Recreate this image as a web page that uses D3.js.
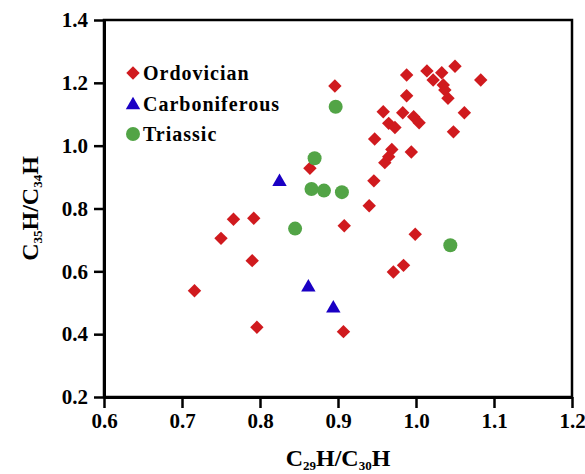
<!DOCTYPE html>
<html>
<head>
<meta charset="utf-8">
<script src="https://cdn.jsdelivr.net/npm/d3@7"></script>
<style>
  body { margin: 0; background: #fff; }
  text { font-family: "Liberation Serif", "Times New Roman", serif; font-weight: bold; }
</style>
</head>
<body>
<div id="myPlot"></div>
<script>
// C29H/C30H vs C35H/C34H values
const ordovicianX = [0.716, 0.750, 0.766, 0.792, 0.790, 0.796, 0.864, 0.896, 0.908, 0.907,
  0.940, 0.946, 0.947, 0.958, 0.960, 0.965, 0.969, 0.965, 0.973, 0.971,
  0.984, 0.983, 0.988, 0.988, 0.994, 0.997, 1.004, 0.999, 1.014, 1.033,
  1.022, 1.035, 1.037, 1.041, 1.050, 1.083, 1.062, 1.048];
const ordovicianY = [0.538, 0.705, 0.766, 0.769, 0.634, 0.422, 0.928, 1.190, 0.745, 0.408,
  0.809, 0.888, 1.021, 1.108, 0.946, 0.965, 0.988, 1.071, 1.058, 0.598,
  0.619, 1.105, 1.225, 1.159, 0.980, 1.092, 1.073, 0.718, 1.238, 1.232,
  1.209, 1.193, 1.177, 1.151, 1.253, 1.209, 1.105, 1.044];
const carboniferousX = [0.825, 0.862, 0.894];
const carboniferousY = [0.885, 0.549, 0.482];
const triassicX = [0.897, 0.870, 0.866, 0.882, 0.905, 0.845, 1.044];
const triassicY = [1.124, 0.960, 0.862, 0.857, 0.852, 0.736, 0.683];

const xTicks = [0.6, 0.7, 0.8, 0.9, 1.0, 1.1, 1.2];
const yTicks = [0.2, 0.4, 0.6, 0.8, 1.0, 1.2, 1.4];
const seriesNames = ["Ordovician", "Carboniferous", "Triassic"];

window.onload = () => {
  const width = 585;
  const height = 474;
  const left = 104, right = 572, top = 20, bottom = 397;

  const svg = d3.select("#myPlot")
    .append("svg")
    .attr("width", width)
    .attr("height", height);

  const x = d3.scaleLinear().domain([0.6, 1.2]).range([left, right]);
  const y = d3.scaleLinear().domain([0.2, 1.4]).range([bottom, top]);

  // frame (top and right)
  svg.append("rect")
    .attr("x", left).attr("y", top)
    .attr("width", right - left).attr("height", bottom - top)
    .attr("fill", "none").attr("stroke", "#000").attr("stroke-width", 2.5);

  // X axis
  const xAxis = svg.append("g")
    .attr("transform", "translate(0," + bottom + ")")
    .call(d3.axisBottom(x).tickValues(xTicks).tickFormat(d3.format(".1f"))
      .tickSize(11).tickPadding(5).tickSizeOuter(0));
  xAxis.select(".domain").attr("stroke-width", 3);
  xAxis.selectAll(".tick line").attr("stroke-width", 2.5);
  xAxis.selectAll("text").attr("font-size", 21).attr("fill", "#000")
    .attr("font-family", "Liberation Serif").attr("font-weight", "bold");

  // Y axis
  const yAxis = svg.append("g")
    .attr("transform", "translate(" + left + ",0)")
    .call(d3.axisLeft(y).tickValues(yTicks).tickFormat(d3.format(".1f"))
      .tickSize(10).tickPadding(6).tickSizeOuter(0));
  yAxis.select(".domain").attr("stroke-width", 3);
  yAxis.selectAll(".tick line").attr("stroke-width", 2.5);
  yAxis.selectAll("text").attr("font-size", 21).attr("fill", "#000")
    .attr("font-family", "Liberation Serif").attr("font-weight", "bold");

  // Axis titles
  const xt = svg.append("text")
    .attr("x", (left + right) / 2).attr("y", 466)
    .attr("text-anchor", "middle").attr("font-size", 24);
  xt.append("tspan").text("C");
  xt.append("tspan").text("29").attr("font-size", 13).attr("dy", 4);
  xt.append("tspan").text("H/C").attr("dy", -4);
  xt.append("tspan").text("30").attr("font-size", 13).attr("dy", 4);
  xt.append("tspan").text("H").attr("dy", -4);

  const yt = svg.append("text")
    .attr("transform", "translate(38," + (top + bottom) / 2 + ") rotate(-90)")
    .attr("text-anchor", "middle").attr("font-size", 24);
  yt.append("tspan").text("C");
  yt.append("tspan").text("35").attr("font-size", 13).attr("dy", 4);
  yt.append("tspan").text("H/C").attr("dy", -4);
  yt.append("tspan").text("34").attr("font-size", 13).attr("dy", 4);
  yt.append("tspan").text("H").attr("dy", -4);

  const red = "#d01a1e", blue = "#1a00c4", green = "#52a446";
  const diamond = d3.symbol().type(d3.symbolSquare).size(90)();
  const triangle = d3.symbol().type(d3.symbolTriangle).size(90)();

  const ordo = ordovicianX.map((v, i) => [v, ordovicianY[i]]);
  const carb = carboniferousX.map((v, i) => [v, carboniferousY[i]]);
  const tria = triassicX.map((v, i) => [v, triassicY[i]]);

  svg.append("g").selectAll("path")
    .data(ordo).enter()
    .append("path")
    .attr("d", diamond)
    .attr("transform", d => "translate(" + x(d[0]) + "," + y(d[1]) + ") rotate(45)")
    .attr("fill", red);

  svg.append("g").selectAll("path")
    .data(carb).enter()
    .append("path")
    .attr("d", triangle)
    .attr("transform", d => "translate(" + x(d[0]) + "," + y(d[1]) + ")")
    .attr("fill", blue);

  svg.append("g").selectAll("circle")
    .data(tria).enter()
    .append("circle")
    .attr("cx", d => x(d[0]))
    .attr("cy", d => y(d[1]))
    .attr("r", 7)
    .attr("fill", green);

  // Legend
  const legend = svg.append("g");
  const ly = [73, 104, 134];
  legend.append("path").attr("d", diamond)
    .attr("transform", "translate(133," + ly[0] + ") rotate(45)").attr("fill", red);
  legend.append("path").attr("d", triangle)
    .attr("transform", "translate(133," + (ly[1] + 1) + ")").attr("fill", blue);
  legend.append("circle").attr("cx", 133).attr("cy", ly[2]).attr("r", 7).attr("fill", green);
  legend.selectAll("text")
    .data(seriesNames).enter()
    .append("text")
    .attr("x", 143)
    .attr("y", (d, i) => ly[i] + 7)
    .attr("font-size", 20)
    .attr("letter-spacing", 1)
    .text(d => d);
};
</script>
</body>
</html>
